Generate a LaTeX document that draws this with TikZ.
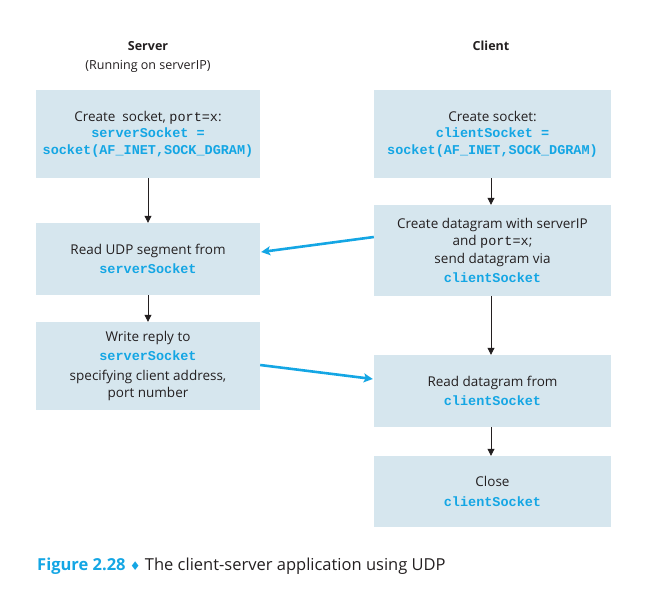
\documentclass[tikz,border=0pt]{standalone}
\usepackage{fontspec}
\setmainfont{Open Sans}
\setmonofont{Liberation Mono}
\newfontfamily\symfont{DejaVu Sans}
\usetikzlibrary{arrows.meta}
\definecolor{boxfill}{HTML}{D6E6EE}
\definecolor{pblue}{HTML}{14A6E4}
\definecolor{ink}{HTML}{231F20}
\newcommand{\bcode}[1]{{\color{pblue}\ttfamily\bfseries #1}}
\newcommand{\pcode}[1]{{\ttfamily #1}}
\begin{document}
\begin{tikzpicture}[x=1pt,y=-1pt,
  every node/.style={text=ink},
  font=\fontsize{13.5}{19.5}\selectfont,
  box/.style={fill=boxfill, draw=none, align=center, inner sep=0pt},
  lbl/.style={align=center, inner sep=0pt, font=\fontsize{12.5}{15}\selectfont},
  flow/.style={draw=ink, line width=0.8pt, -{Triangle[length=7pt,width=7pt]}},
  msg/.style={draw=pblue, line width=2.6pt, -{Stealth[length=9pt,width=9pt,inset=2pt]}}]
\useasboundingbox (0,0) rectangle (670,590);

% headings
\node[lbl, font=\fontsize{12.5}{15}\selectfont\bfseries] (hs) at (148,46) {Server};
\node[lbl] (hs2) at (148,66) {(Running on serverIP)};
\node[lbl, font=\fontsize{12.5}{15}\selectfont\bfseries] (hc) at (491,46) {Client};

% server boxes
\node[box, minimum width=224pt, minimum height=88pt] (s1) at (148,134)
  {Create\ \ socket, \pcode{port=x}:\\[-3pt]\bcode{serverSocket =}\\[-3pt]\bcode{socket(AF\_INET,SOCK\_DGRAM)}};
\node[box, minimum width=224pt, minimum height=72pt] (s2) at (148,259)
  {Read UDP segment from\\\bcode{serverSocket}};
\node[box, minimum width=224pt, minimum height=88pt] (s3) at (148,366)
  {Write reply to\\\bcode{serverSocket}\\specifying client address,\\[-2pt]port number};

% client boxes
\node[box, minimum width=237pt, minimum height=88pt] (c1) at (492.5,134)
  {Create socket:\\[-3pt]\bcode{clientSocket =}\\[-3pt]\bcode{socket(AF\_INET,SOCK\_DGRAM)}};
\node[box, minimum width=237pt, minimum height=91pt] (c2) at (492.5,250.5)
  {Create datagram with serverIP\\[-2pt]and \pcode{port=x};\\[-2pt]send datagram via\\\bcode{clientSocket}};
\node[box, minimum width=237pt, minimum height=72pt] (c3) at (492.5,391)
  {Read datagram from\\\bcode{clientSocket}};
\node[box, minimum width=237pt, minimum height=71pt] (c4) at (492.5,491.5)
  {Close\\\bcode{clientSocket}};

% flow arrows
\draw[flow] (s1.south) -- (s2.north);
\draw[flow] (s2.south) -- (s3.north);
\draw[flow] ([xshift=-1.5pt]c1.south) -- ([xshift=-1.5pt]c2.north);
\draw[flow] ([xshift=-1.5pt]c2.south) -- ([xshift=-1.5pt]c3.north);
\draw[flow] ([xshift=-1.5pt]c3.south) -- ([xshift=-1.5pt]c4.north);

% messages
\draw[msg] ([yshift=13.5pt]c2.west) -- ([yshift=7pt,xshift=1pt]s2.east);
\draw[msg] ([yshift=1pt]s3.east) -- ([yshift=12pt,xshift=-1pt]c3.west);

% caption
\node[anchor=base west, inner sep=0pt, font=\fontsize{16.5}{19}\selectfont] (cap) at (37,570)
  {{\color{pblue}\bfseries Figure 2.28}\ {\color{pblue}\symfont\fontsize{12}{14}\selectfont ♦}\ The client-server application using UDP};
\end{tikzpicture}
\end{document}
